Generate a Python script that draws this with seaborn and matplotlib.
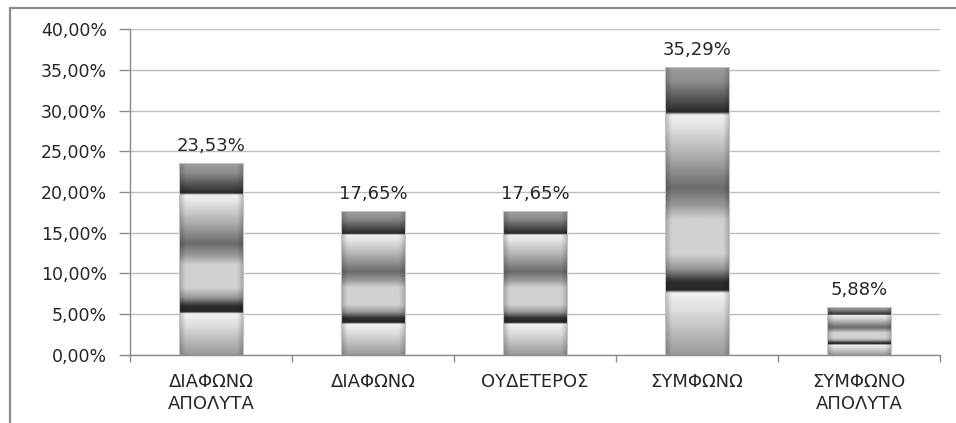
import numpy as np
import pandas as pd
import matplotlib
matplotlib.use("Agg")
import matplotlib.pyplot as plt
from matplotlib.lines import Line2D
from matplotlib.ticker import FixedLocator, FuncFormatter
import seaborn as sns

# Survey answers and their shares
categories = ["ΔΙΑΦΩΝΩ\nΑΠΟΛΥΤΑ", "ΔΙΑΦΩΝΩ", "ΟΥΔΕΤΕΡΟΣ", "ΣΥΜΦΩΝΩ", "ΣΥΜΦΩΝΟ\nΑΠΟΛΥΤΑ"]
shares = [0.2353, 0.1765, 0.1765, 0.3529, 0.0588]
y_ticks = [0.00, 0.05, 0.10, 0.15, 0.20, 0.25, 0.30, 0.35, 0.40]


def pct(v):
    return f"{v * 100:.2f}%".replace(".", ",")


sns.set_theme(style="white")
plt.rcParams["font.family"] = ["DejaVu Sans"]
TEXT = "#262626"
GRID = "#bdbdbd"
AXIS = "#8a8a8a"

df = pd.DataFrame({"category": categories, "share": shares})

fig = plt.figure(figsize=(9.56, 4.23), dpi=100)
ax = fig.add_axes([0.136, 0.1608, 0.9833 - 0.136, 0.9314 - 0.1608])

sns.barplot(data=df, x="category", y="share", width=0.4, color="white",
            edgecolor="#c4c4c4", linewidth=0.8, ax=ax)

# Metallic banded fill: vertical grey profile, slightly darker at the side edges
stops_t = [0.00, 0.05, 0.14, 0.155, 0.165, 0.20, 0.30, 0.42, 0.48, 0.53,
           0.65, 0.70, 0.745, 0.775, 0.785, 0.85, 1.00]
stops_v = [0.62, 0.55, 0.22, 0.15, 0.94, 0.90, 0.70, 0.42, 0.60, 0.82,
           0.82, 0.60, 0.18, 0.15, 0.95, 0.86, 0.60]
t = np.linspace(0, 1, 400)
profile = np.interp(t, stops_t, stops_v)
u = np.linspace(0, 1, 60)
side = np.interp(u, [0, 0.05, 0.10, 0.90, 0.95, 1.0], [0.78, 0.9, 1.0, 1.0, 0.9, 0.78])
shade = np.clip(profile[:, None] * side[None, :], 0, 1)

for patch in ax.patches:
    x0, y0 = patch.get_x(), patch.get_y()
    w, h = patch.get_width(), patch.get_height()
    patch.set_facecolor("none")
    patch.set_zorder(3)
    im = ax.imshow(shade, extent=[x0, x0 + w, y0, y0 + h], aspect="auto",
                   cmap="gray", vmin=0, vmax=1, interpolation="bilinear",
                   zorder=2.5)
    im.set_clip_path(patch)

ax.bar_label(ax.containers[0], labels=[pct(v) for v in shares], padding=6,
             fontsize=13, color=TEXT)

ax.set_xlim(-0.5, len(categories) - 0.5)
ax.set_ylim(0, 0.40)
ax.set_xlabel("")
ax.set_ylabel("")

ax.yaxis.set_major_locator(FixedLocator(y_ticks))
ax.yaxis.set_major_formatter(FuncFormatter(lambda v, _: pct(v)))
ax.yaxis.grid(True, color=GRID, linewidth=1)
ax.set_axisbelow(True)

ax.tick_params(axis="y", which="major", length=8, width=1, color=AXIS,
               direction="out", pad=8.5, labelsize=12.5, labelcolor=TEXT, left=True)
ax.tick_params(axis="x", which="major", length=0, pad=13,
               labelsize=13, labelcolor=TEXT)
ax.xaxis.set_minor_locator(FixedLocator(np.arange(len(categories) + 1) - 0.5))
ax.tick_params(axis="x", which="minor", length=5, width=1, color=AXIS,
               direction="out", bottom=True)
for lbl in ax.get_xticklabels():
    lbl.set_linespacing(1.3)

for side_name in ["top", "right"]:
    ax.spines[side_name].set_visible(False)
for side_name in ["left", "bottom"]:
    ax.spines[side_name].set_color(AXIS)
    ax.spines[side_name].set_linewidth(1)

# Outer chart frame (top and left edges)
fx = 10 / 956
fy = 1 - 8 / 423
fig.add_artist(Line2D([fx, fx], [0, fy], transform=fig.transFigure,
                      color="#8c8c8c", linewidth=1.6))
fig.add_artist(Line2D([fx, 1], [fy, fy], transform=fig.transFigure,
                      color="#8c8c8c", linewidth=1.6))

fig.savefig("out.png", dpi=100)
